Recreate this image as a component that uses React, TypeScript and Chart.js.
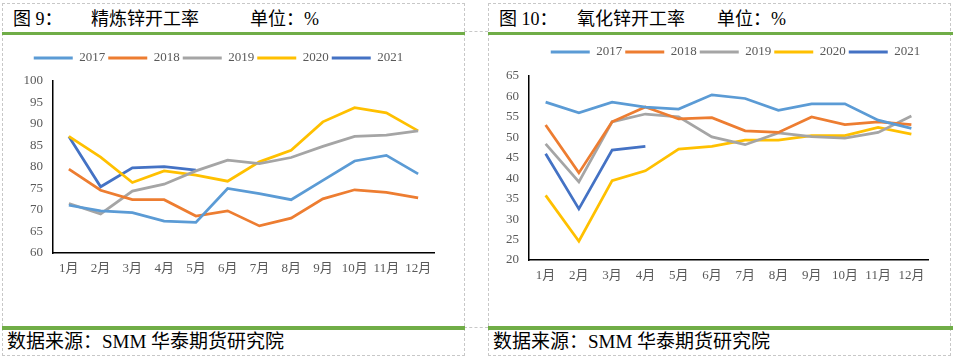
import React, { useEffect, useRef } from "react";
import { Chart, registerables } from "chart.js";
Chart.register(...registerables);

const months = ["1月", "2月", "3月", "4月", "5月", "6月", "7月", "8月", "9月", "10月", "11月", "12月"];
const years = ["2017", "2018", "2019", "2020", "2021"];
const colors = ["#5B9BD5", "#ED7D31", "#A5A5A5", "#FFC000", "#4472C4"];

// 精炼锌开工率
const refined2017 = [71.1, 69.8, 69.4, 67.4, 67.1, 75.0, 73.8, 72.4, 76.9, 81.4, 82.7, 78.4];
const refined2018 = [79.5, 74.6, 72.4, 72.4, 68.6, 69.8, 66.3, 68.1, 72.6, 74.7, 74.1, 72.8];
const refined2019 = [71.5, 69.1, 74.4, 76.0, 79.1, 81.6, 80.8, 82.2, 84.8, 87.1, 87.4, 88.4];
const refined2020 = [87.1, 82.3, 76.4, 79.1, 78.1, 76.7, 81.2, 83.9, 90.5, 93.8, 92.6, 88.4];
const refined2021 = [87.1, 75.4, 79.8, 80.1, 79.3];
const refinedTicks = [60, 65, 70, 75, 80, 85, 90, 95, 100];

// 氧化锌开工率
const oxide2017 = [58.6, 56.0, 58.6, 57.4, 56.9, 60.4, 59.5, 56.6, 58.2, 58.2, 54.2, 52.2];
const oxide2018 = [53.0, 41.3, 53.8, 57.4, 54.5, 54.8, 51.6, 51.2, 55.0, 53.1, 53.8, 53.1];
const oxide2019 = [48.4, 39.1, 53.8, 55.7, 55.0, 50.1, 48.2, 51.1, 50.2, 49.8, 51.2, 55.2];
const oxide2020 = [35.8, 24.6, 39.4, 41.8, 47.1, 47.8, 49.3, 49.3, 50.4, 50.4, 52.4, 50.8];
const oxide2021 = [46.0, 32.5, 46.9, 47.8];
const oxideTicks = [20, 25, 30, 35, 40, 45, 50, 55, 60, 65];

const SERIF = "'Liberation Serif', 'Noto Sans CJK SC', serif";
const GREEN = "#70AD47";
const DASH = "1px dashed #c8c8c8";

const legendShift = {
  id: "legendShift",
  afterLayout(chart: any, _args: any, opts: any) {
    const l = chart.legend;
    if (!l) return;
    const dx = opts.dx || 0;
    const dy = opts.dy || 0;
    l.left += dx;
    l.right += dx;
    l.top += dy;
    l.bottom += dy;
  },
};

type Geo = {
  yWidth: number;
  xHeight: number;
  padTop: number;
  padRight: number;
  dx: number;
  dy: number;
};

function LineChart({ series, ticks, geo }: { series: number[][]; ticks: number[]; geo: Geo }) {
  const ref = useRef<HTMLCanvasElement>(null);
  useEffect(() => {
    if (!ref.current) return;
    const chart = new Chart(ref.current, {
      type: "line",
      data: {
        labels: months,
        datasets: series.map((d, i) => ({
          label: years[i],
          data: d,
          borderColor: colors[i],
          backgroundColor: colors[i],
          borderWidth: 2.75,
          pointRadius: 0,
          pointHoverRadius: 0,
          tension: 0,
          fill: false,
        })),
      },
      options: {
        animation: false,
        responsive: false,
        maintainAspectRatio: false,
        layout: { padding: { top: geo.padTop, right: geo.padRight, left: 0, bottom: 0 } },
        plugins: {
          tooltip: { enabled: false },
          legend: {
            position: "top",
            labels: {
              boxWidth: 39,
              boxHeight: 3,
              padding: 3,
              color: "#595959",
              font: { family: SERIF, size: 13 },
              generateLabels: (c: any) =>
                (Chart.defaults.plugins.legend.labels as any)
                  .generateLabels(c)
                  .map((l: any) => ({ ...l, lineWidth: 0, fillStyle: l.strokeStyle })),
            },
          },
          legendShift: { dx: geo.dx, dy: geo.dy },
        } as any,
        scales: {
          x: {
            offset: true,
            grid: { display: false, drawTicks: false },
            border: { display: true, color: "#000", width: 1.5 },
            ticks: { color: "#595959", font: { family: SERIF, size: 13 }, padding: 8, maxRotation: 0, autoSkip: false },
            afterFit: (s: any) => {
              s.height = geo.xHeight;
            },
          },
          y: {
            min: ticks[0],
            max: ticks[ticks.length - 1],
            afterBuildTicks: (s: any) => {
              s.ticks = ticks.map((v) => ({ value: v }));
            },
            grid: { display: false, drawTicks: false },
            border: { display: true, color: "#000", width: 1.5 },
            ticks: { color: "#595959", font: { family: SERIF, size: 13 }, padding: 10 },
            afterFit: (s: any) => {
              s.width = geo.yWidth;
            },
          },
        },
      },
      plugins: [legendShift as any],
    });
    return () => chart.destroy();
  }, []);
  return <canvas ref={ref} width={462} height={286} style={{ position: "absolute", left: 0, top: 33, width: 462, height: 286 }} />;
}

function Panel({
  left,
  width,
  greenWidth,
  fig,
  name,
  nameX,
  unitX,
  children,
}: {
  left: number;
  width: number;
  greenWidth: number;
  fig: string;
  name: string;
  nameX: number;
  unitX: number;
  children: React.ReactNode;
}) {
  const txt: React.CSSProperties = {
    position: "absolute",
    fontFamily: SERIF,
    fontSize: 18,
    lineHeight: "22px",
    color: "#000",
    whiteSpace: "nowrap",
  };
  return (
    <div style={{ position: "absolute", left, top: 3, width, height: 353, border: DASH, boxSizing: "border-box" }}>
      <span style={{ ...txt, left: 10, top: 4 }}>{fig}</span>
      <span style={{ ...txt, left: nameX, top: 4 }}>{name}</span>
      <span style={{ ...txt, left: unitX, top: 4 }}>单位：%</span>
      <div style={{ position: "absolute", left: -1, top: 28, width: greenWidth, height: 3, background: GREEN }} />
      {children}
      <div style={{ position: "absolute", left: -1, top: 322, width: greenWidth, height: 4, background: GREEN }} />
      <span style={{ ...txt, fontSize: 19, left: 4, top: 327 }}>数据来源：SMM 华泰期货研究院</span>
    </div>
  );
}

export default function App() {
  return (
    <div style={{ position: "fixed", left: 0, top: 0, width: 953, height: 358, background: "#fff", overflow: "hidden" }}>
      <div style={{ position: "absolute", left: 464, top: 31, width: 24, borderTop: DASH }} />
      <div style={{ position: "absolute", left: 464, top: 327, width: 24, borderTop: DASH }} />
      <Panel left={2} width={463} greenWidth={463} fig="图 9：" name="精炼锌开工率" nameX={88} unitX={247}>
        <LineChart
          series={[refined2017, refined2018, refined2019, refined2020, refined2021]}
          ticks={refinedTicks}
          geo={{ yWidth: 50, xHeight: 70, padTop: 18, padRight: 31, dx: 0, dy: -6.5 }}
        />
      </Panel>
      <Panel left={488} width={463} greenWidth={465} fig="图 10：" name="氧化锌开工率" nameX={88} unitX={228}>
        <LineChart
          series={[oxide2017, oxide2018, oxide2019, oxide2020, oxide2021]}
          ticks={oxideTicks}
          geo={{ yWidth: 40, xHeight: 63, padTop: 13, padRight: 23, dx: 27, dy: -7.5 }}
        />
      </Panel>
    </div>
  );
}
